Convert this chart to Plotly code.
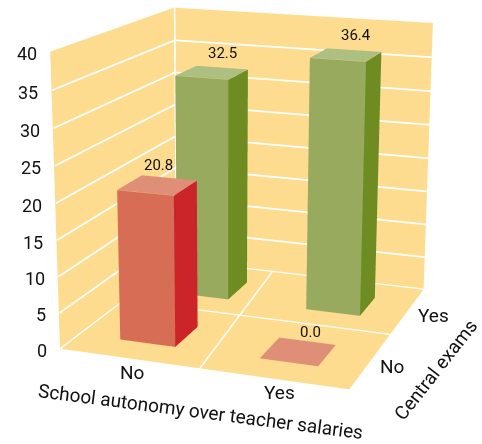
import numpy as np
import plotly.graph_objects as go

x_cats = ["No", "Yes"]
y_cats = ["No", "Yes"]
values = [[20.8, 0.0], [32.5, 36.4]]
z_ticks = [0, 5, 10, 15, 20, 25, 30, 35, 40]

W, H = 482, 444
EYE = (0.6245, -2.0501, 1.5966)
CEN = (-0.0584, -0.1492, -0.0901)
UP = (-0.0105, -0.0039, 1.0)
ASP = (3.0025, 3.3103, 1.2771)
CX = np.array([0.0, -0.1618, 0.3496, -0.4181, -0.0040, 0.0188, 0.0084, 0.0033])
CY = np.array([0.0, 0.3365, -1.0721, 0.9381, 0.0022, 0.0342, 0.0179, -0.0065])
BAR_X = (0.304, 0.706)
BAR_Y = (0.29, 0.69)
MID_LINE_BACK = 0.8048

def place(x, y, z):
    """Keystone correction of the floor plan, so the box reads like the print; z stays the data value."""
    u, v, w = x / 2, y / 2, z / 40
    m = np.array([1, u, v, w, u * v, u * w, v * w, u * v * w])
    return (x + m @ CX, y + m @ CY, z)

FLOOR = "#FEDC8F"
vx, vy, vz, fi, fj, fk, fc = [], [], [], [], [], [], []
def quad(a, b, c, d, col):
    n = len(vx)
    for q in (a, b, c, d):
        px, py, pz = place(*q)
        vx.append(px); vy.append(py); vz.append(pz)
    fi.extend([n, n]); fj.extend([n + 1, n + 2]); fk.extend([n + 2, n + 3]); fc.extend([col, col])

quad((0,0,0),(2,0,0),(2,2,0),(0,2,0),FLOOR)
quad((0,0,0),(0,2,0),(0,2,40),(0,0,40),FLOOR)
quad((0,2,0),(2,2,0),(2,2,40),(0,2,40),FLOOR)
colors = [("#D66D54", "#CB2429", "#DF8F78"), ("#97AA5E", "#6E8C22", "#AEBF82")]
for j in range(2):
    for i in range(2):
        v = values[j][i]
        x0, x1, y0, y1 = i + BAR_X[0], i + BAR_X[1], j + BAR_Y[0], j + BAR_Y[1]
        front, side, top = colors[j]
        t = v + 0.03
        quad((x0,y0,t),(x1,y0,t),(x1,y1,t),(x0,y1,t),top)
        if v > 0:
            quad((x0,y0,0),(x1,y0,0),(x1,y0,v),(x0,y0,v),front)
            quad((x1,y0,0),(x1,y1,0),(x1,y1,v),(x1,y0,v),side)

traces = [go.Mesh3d(x=vx, y=vy, z=vz, i=fi, j=fj, k=fk, facecolor=fc, flatshading=True,
                    lighting=dict(ambient=1, diffuse=0, specular=0, fresnel=0, roughness=1),
                    hoverinfo="skip", showscale=False)]
lx, ly, lz = [], [], []
def seg(a, b):
    a, b = place(*a), place(*b)
    lx.extend([a[0], b[0], None]); ly.extend([a[1], b[1], None]); lz.extend([a[2], b[2], None])
e = 0.006
for z in z_ticks[1:-1]:
    seg((e,0,z),(e,2-e,z)); seg((e,2-e,z),(2,2-e,z))
seg((e,0,0.05),(e,2-e,0.05)); seg((0,2-e,0.05),(2,2-e,0.05))
seg((1,0,0.05),(MID_LINE_BACK,2,0.05)); seg((0,1,0.05),(2,1,0.05))
seg((e,2-e,0),(e,2-e,40))
traces.append(go.Scatter3d(x=lx, y=ly, z=lz, mode="lines", line=dict(color="white", width=3.5), hoverinfo="skip"))

FONT = "Roboto"
ann = []
def note(x, y, z, text, size=18, **kw):
    px, py, pz = place(x, y, z)
    ann.append(dict(x=px, y=py, z=pz, text=text, showarrow=False, font=dict(family=FONT, size=size, color="#111"), **kw))
for z in z_ticks:
    note(0, 0, z, str(z), xanchor="right", xshift=-11, yshift=-2)
LABEL_SHIFT = [[1, 12], [10, 10]]
for j in range(2):
    for i in range(2):
        v = values[j][i]
        note(i + sum(BAR_X) / 2, j + sum(BAR_Y) / 2, v, f"{v:.1f}", size=15, yshift=20, xshift=LABEL_SHIFT[j][i])
note(0.5, 0, 0, x_cats[0], size=19, yshift=-14, xshift=3)
note(1.5, 0, 0, x_cats[1], size=19, yshift=-14, xshift=6)
note(2, 0.5, 0, y_cats[0], size=19, xshift=22, yshift=-6)
note(2, 1.5, 0, y_cats[1], size=19, xshift=26, yshift=-4)

ax = dict(visible=False, showgrid=False, zeroline=False, showspikes=False)
scene = dict(domain=dict(x=[0, 1], y=[0, 1]),
             xaxis=dict(range=[-1, 3], **ax), yaxis=dict(range=[-1, 3], **ax), zaxis=dict(range=[-2, 42], **ax),
             aspectmode="manual", aspectratio=dict(x=ASP[0], y=ASP[1], z=ASP[2]),
             camera=dict(eye=dict(x=EYE[0], y=EYE[1], z=EYE[2]), center=dict(x=CEN[0], y=CEN[1], z=CEN[2]),
                         up=dict(x=UP[0], y=UP[1], z=UP[2]), projection=dict(type="perspective")),
             annotations=ann, bgcolor="white", dragmode=False)
fig = go.Figure(traces)
paper = [dict(x=200 / W, y=1 - 411 / H, xref="paper", yref="paper", xanchor="center", yanchor="middle",
              text="School autonomy over teacher salaries", textangle=7.4,
              showarrow=False, font=dict(family=FONT, size=19, color="#111")),
         dict(x=435 / W, y=1 - 370 / H, xref="paper", yref="paper", xanchor="center", yanchor="middle",
              text="Central exams", textangle=-52,
              showarrow=False, font=dict(family=FONT, size=19, color="#111"))]
fig.update_layout(width=W, height=H, margin=dict(l=0, r=0, t=0, b=0), showlegend=False, paper_bgcolor="white",
                  scene=scene, annotations=paper)
fig.write_html("out.html", config=dict(displayModeBar=False),
               post_script="document.body.style.margin='0';document.body.style.overflow='hidden';")
